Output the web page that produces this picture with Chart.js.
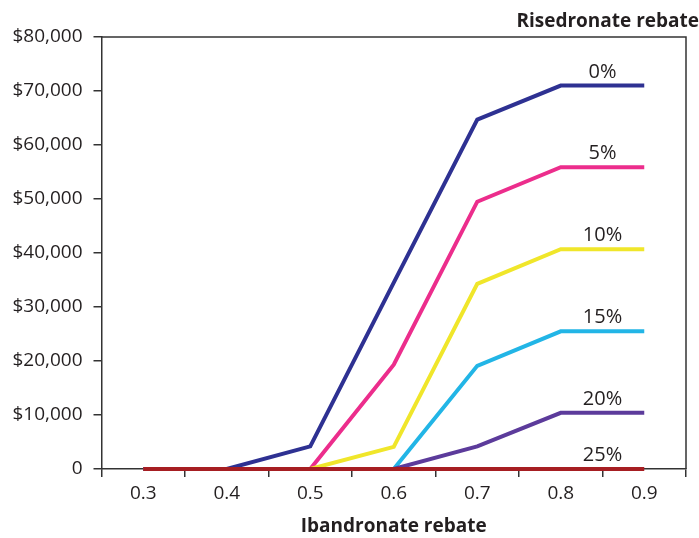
<!DOCTYPE html>
<html>
<head>
<meta charset="utf-8">
<script src="https://cdn.jsdelivr.net/npm/chart.js@4"></script>
<style>
  html, body { margin: 0; padding: 0; background: #fff; }
  #wrap { width: 699px; height: 538px; }
</style>
</head>
<body>
<div id="wrap"><canvas id="chart" width="699" height="538"></canvas></div>
<script>
// Ibandronate rebate (x axis)
const rebates = ["0.3", "0.4", "0.5", "0.6", "0.7", "0.8", "0.9"];

// Risedronate rebate series
const seriesNames = ["0%", "5%", "10%", "15%", "20%", "25%"];
const r0  = [0, 0, 4200, 34500, 64700, 71000, 71000];
const r5  = [0, 0, 0, 19300, 49500, 55900, 55900];
const r10 = [0, 0, 0, 4100, 34300, 40700, 40700];
const r15 = [0, 0, 0, 0, 19100, 25500, 25500];
const r20 = [0, 0, 0, 0, 4200, 10400, 10400];
const r25 = [0, 0, 0, 0, 0, 0, 0];
const colors = ["#2e3192", "#ec2d8c", "#f0e62a", "#22b5e6", "#5c3b9b", "#a61e22"];

const yTicks = [0, 10000, 20000, 30000, 40000, 50000, 60000, 70000, 80000];
const yTickLabels = ["0", "$10,000", "$20,000", "$30,000", "$40,000", "$50,000", "$60,000", "$70,000", "$80,000"];

const ink = "#231f20";
const axisColor = "#333";

// Linien-etiketter over enden + ramme top/højre
const endLabels = {
  id: "endLabels",
  afterDatasetsDraw(chart) {
    const { ctx, chartArea, scales } = chart;
    ctx.save();
    ctx.strokeStyle = axisColor;
    ctx.lineWidth = 1.5;
    ctx.beginPath();
    ctx.moveTo(chartArea.left, chartArea.top);
    ctx.lineTo(chartArea.right, chartArea.top);
    ctx.lineTo(chartArea.right, chartArea.bottom);
    ctx.stroke();

    ctx.fillStyle = ink;
    ctx.font = "20px 'Open Sans'";
    ctx.textAlign = "center";
    ctx.textBaseline = "alphabetic";
    const x = (scales.x.getPixelForValue(5) + scales.x.getPixelForValue(6)) / 2;
    chart.data.datasets.forEach(ds => {
      const y = scales.y.getPixelForValue(ds.data[6]);
      ctx.fillText(ds.label, x, y - 8);
    });

    ctx.font = "bold 19px 'Open Sans'";
    ctx.textAlign = "right";
    ctx.fillText("Risedronate rebate", 699, 27);
    ctx.restore();
  }
};

const seriesData = [r0, r5, r10, r15, r20, r25];

new Chart(document.getElementById("chart"), {
  type: "line",
  data: {
    labels: rebates,
    datasets: seriesData.map((d, i) => ({
      label: seriesNames[i],
      data: d,
      borderColor: colors[i],
      backgroundColor: colors[i],
      borderWidth: 4,
      pointRadius: 0,
      tension: 0,
      clip: false,
      order: seriesData.length - i
    }))
  },
  options: {
    responsive: false,
    animation: false,
    layout: { padding: { top: 37, right: 13, left: 0, bottom: 0 } },
    plugins: {
      legend: { display: false },
      tooltip: { enabled: false }
    },
    scales: {
      x: {
        type: "category",
        offset: true,
        grid: { offset: true, drawOnChartArea: false, drawTicks: true, tickLength: 8, color: axisColor, lineWidth: 1.5 },
        border: { color: axisColor, width: 1.5 },
        ticks: { color: ink, font: { family: "Open Sans", size: 19 }, padding: 5, maxRotation: 0 },
        title: { display: true, text: "Ibandronate rebate", color: ink, font: { family: "Open Sans", size: 19, weight: "bold" }, padding: { top: 8, bottom: 0 } },
        afterFit(scale) { scale.height = 69; }
      },
      y: {
        min: 0,
        max: 80000,
        afterBuildTicks(scale) { scale.ticks = yTicks.map(v => ({ value: v })); },
        grid: { drawOnChartArea: false, drawTicks: true, tickLength: 8, color: axisColor, lineWidth: 1.5 },
        border: { color: axisColor, width: 1.5 },
        ticks: {
          color: ink,
          font: { family: "Open Sans", size: 19 },
          padding: 11,
          callback: (v) => yTickLabels[yTicks.indexOf(v)]
        },
        afterFit(scale) { scale.width = 101.5; }
      }
    }
  },
  plugins: [endLabels]
});
</script>
</body>
</html>
